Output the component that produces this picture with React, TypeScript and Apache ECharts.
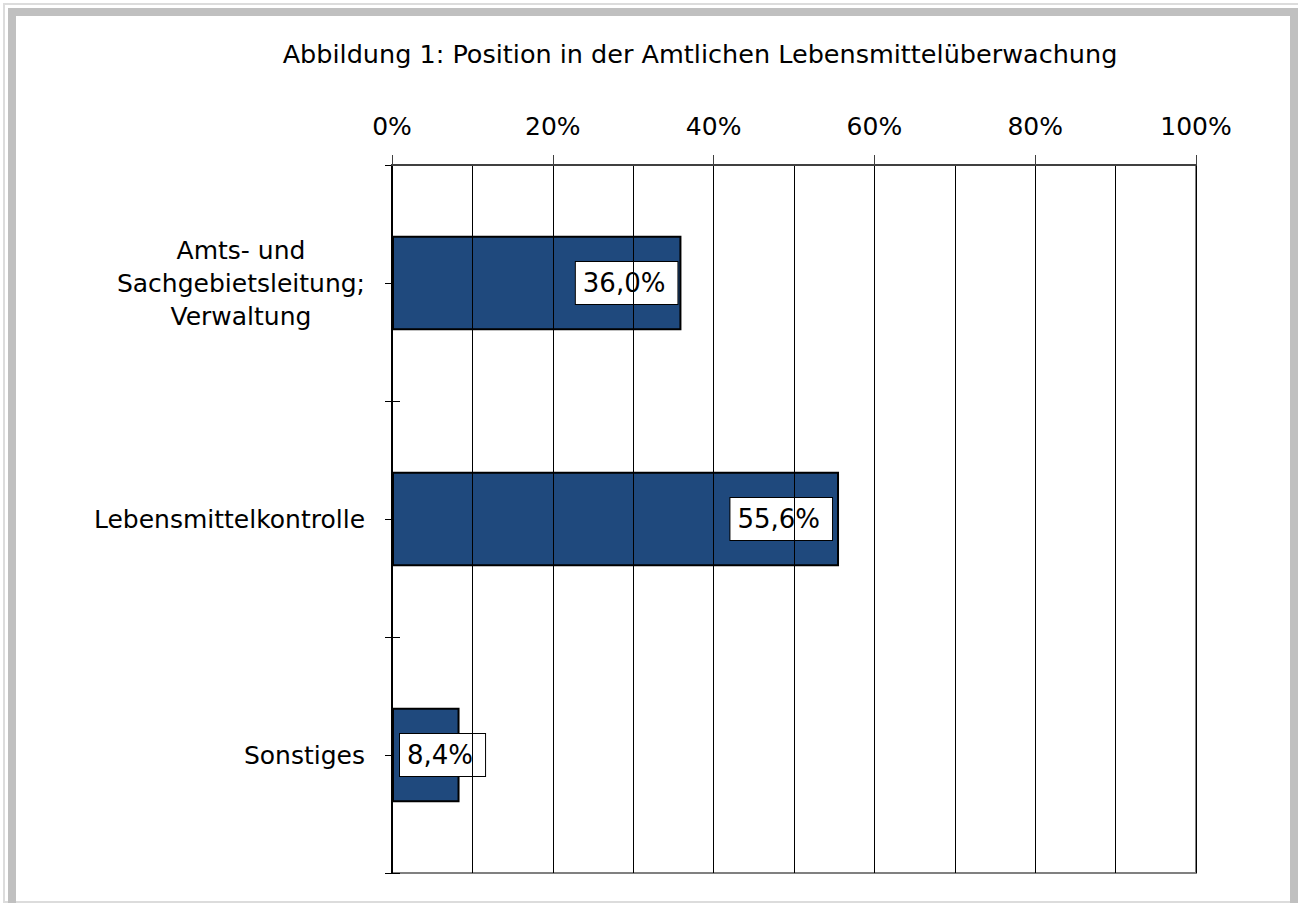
import React, { useEffect, useRef } from "react";
import * as echarts from "echarts";

const titleText = "Abbildung 1: Position in der Amtlichen Lebensmittelüberwachung";
const categories = ["Amts- und\nSachgebietsleitung;\nVerwaltung", "Lebensmittelkontrolle", "Sonstiges"];
const values = [36.0, 55.6, 8.4];
const valueLabels = ["36,0%", "55,6%", "8,4%"];
const axisMin = 0;
const axisMax = 100;
const axisStep = 20;

const FONT = "DejaVu Sans";

export default function App() {
  const ref = useRef<HTMLDivElement>(null);
  useEffect(() => {
    if (!ref.current) return;
    const chart = echarts.init(ref.current, undefined, { renderer: "svg" });
    const labelBase = {
      show: true,
      fontFamily: FONT,
      fontSize: 26,
      color: "#000",
      backgroundColor: "#fff",
      borderColor: "#000",
      borderWidth: 1,
      padding: [9, 12, 7, 7],
    };
    const positions = [
      { position: "insideRight", distance: 4 },
      { position: "insideRight", distance: 7 },
      { position: "insideLeft", distance: 8 },
    ];
    const tickAxis = (alignWithLabel: boolean) => ({
      type: "category",
      data: categories,
      inverse: true,
      position: "left",
      offset: -8,
      axisLine: { show: false },
      axisTick: { show: true, length: 15, alignWithLabel, lineStyle: { color: "#000", width: 1 } },
      axisLabel: { show: false },
      splitLine: { show: false },
    });
    chart.setOption({
      animation: false,
      backgroundColor: "transparent",
      title: {
        text: titleText,
        left: 695,
        top: 36,
        textAlign: "center",
        textStyle: { fontFamily: FONT, fontSize: 25.5, fontWeight: "normal", color: "#000" },
      },
      grid: {
        left: 392,
        top: 165,
        right: 102,
        bottom: 30,
        show: true,
        borderColor: "#808080",
        borderWidth: 2,
        backgroundColor: "#fff",
      },
      xAxis: {
        type: "value",
        position: "top",
        min: axisMin,
        max: axisMax,
        interval: axisStep,
        axisLine: { show: true, onZero: false, lineStyle: { color: "#404040", width: 2 } },
        axisTick: { show: true, inside: false, length: 10, lineStyle: { color: "#404040", width: 1 } },
        axisLabel: {
          formatter: "{value}%",
          fontFamily: FONT,
          fontSize: 25,
          color: "#000",
          margin: 26,
        },
        splitLine: { show: true, lineStyle: { color: "#000", width: 1 } },
        minorTick: { show: false, splitNumber: 2 },
        minorSplitLine: { show: true, lineStyle: { color: "#000", width: 1 } },
        z: 5,
      },
      yAxis: [
        {
          type: "category",
          data: categories,
          inverse: true,
          position: "left",
          axisLine: { show: true, onZero: false, lineStyle: { color: "#000", width: 2 } },
          axisTick: { show: false },
          axisLabel: {
            margin: 27,
            fontFamily: FONT,
            fontSize: 25,
            color: "#000",
            lineHeight: 33,
            formatter: (v: string) =>
              v
                .split("\n")
                .map((s) => `{c|${s}}`)
                .join("\n"),
            rich: {
              c: { align: "center", fontFamily: FONT, fontSize: 25, color: "#000", lineHeight: 33 },
            },
          },
          splitLine: { show: false },
          z: 5,
        },
        tickAxis(false),
        tickAxis(true),
      ],
      series: [
        {
          type: "bar",
          yAxisIndex: 0,
          barWidth: "40%",
          itemStyle: { color: "#1F497D", borderColor: "#000", borderWidth: 2 },
          data: values.map((v, i) => ({
            value: v,
            label: { ...labelBase, ...positions[i], formatter: () => valueLabels[i] },
          })),
          z: 3,
        },
      ],
    });
    return () => chart.dispose();
  }, []);

  return (
    <div style={{ position: "fixed", left: 0, top: 0, width: 1298, height: 903, background: "#fff", overflow: "hidden" }}>
      <div style={{ position: "absolute", left: 3, top: 3, width: 1300, height: 900, border: "2px solid #dcdcdc", boxSizing: "border-box" }} />
      <div style={{ position: "absolute", left: 8, top: 8, width: 1290, height: 1000, border: "8px solid #c0c0c0", boxSizing: "border-box", background: "#fff" }} />
      <div style={{ position: "absolute", left: 16, top: 901, width: 1274, height: 2, background: "#dcdcdc" }} />
      <div ref={ref} style={{ position: "absolute", left: 0, top: 0, width: 1298, height: 903 }} />
    </div>
  );
}
